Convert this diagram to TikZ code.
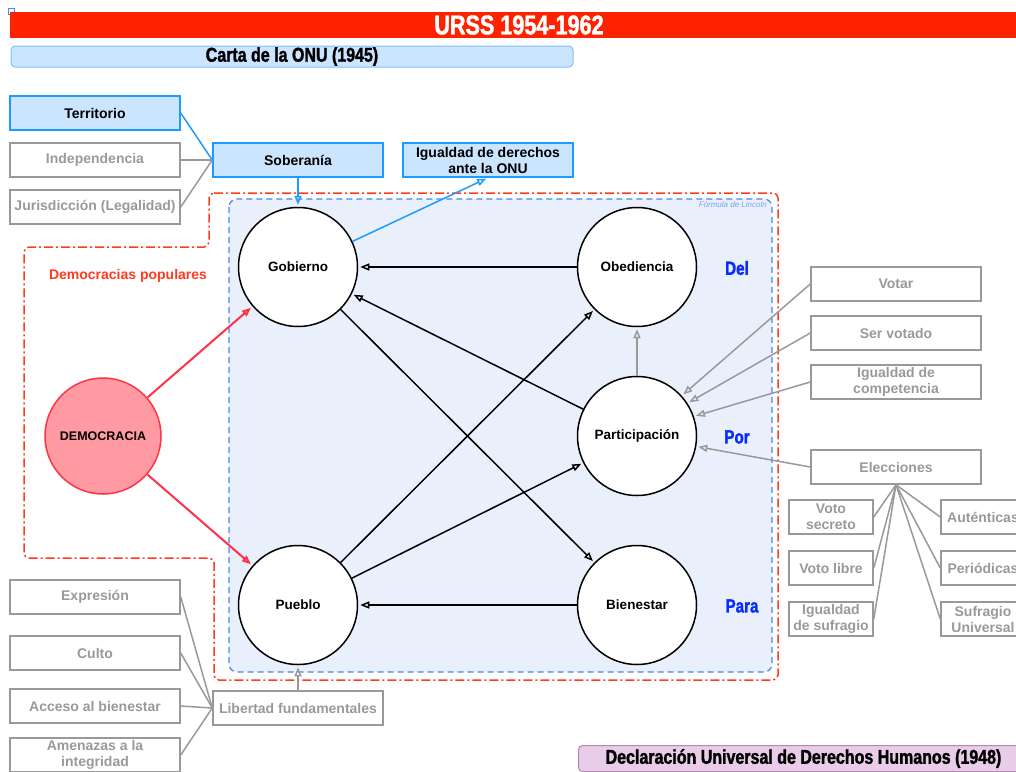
\documentclass[tikz,border=0pt]{standalone}
\usepackage{fontspec}
\setmainfont{Liberation Sans}
\newfontfamily\condensada{Liberation Sans}[FakeStretch=0.8, FakeBold=1.5]
\usetikzlibrary{arrows.meta}

\definecolor{rojobanda}{RGB}{255,34,0}
\definecolor{azulfondo}{RGB}{204,229,255}
\definecolor{azulborde}{RGB}{30,155,255}
\definecolor{azulcarta}{RGB}{128,191,255}
\definecolor{gris}{RGB}{153,153,153}
\definecolor{fondolincoln}{RGB}{234,240,251}
\definecolor{azullincoln}{RGB}{74,134,232}
\definecolor{rojopunteado}{RGB}{255,59,31}
\definecolor{rosademo}{RGB}{255,154,162}
\definecolor{rojodemo}{RGB}{255,51,71}
\definecolor{azulpalabra}{RGB}{10,43,255}
\definecolor{lila}{RGB}{232,204,232}
\definecolor{lilaborde}{RGB}{179,138,179}

\tikzset{
  caja/.style={draw=gris, line width=1.5pt, minimum width=170pt, minimum height=34pt,
    inner sep=0pt, align=center, text=gris, font=\bfseries\fontsize{14}{16}\selectfont},
  cajachica/.style={caja, minimum width=84pt},
  cajaazul/.style={caja, draw=azulborde, fill=azulfondo, text=black},
  circulo/.style={circle, draw, line width=1.5pt, fill=white, minimum size=119pt,
    inner sep=0pt, font=\bfseries\fontsize{13.5}{16}\selectfont},
  flecha/.style={-{Triangle[open,length=9pt,width=7pt]}, line width=1.5pt, shorten >=2pt},
  linea/.style={line width=1.5pt},
  gruesa/.style={font=\condensada\bfseries\fontsize{20}{22}\selectfont},
}

\begin{document}
\begin{tikzpicture}[x=1pt, y=-1pt]
    \useasboundingbox (0,0) rectangle (1016,771);

    % Encabezado
    \draw[azullincoln, line width=0.8pt] (8,8) rectangle (14,14);
    \fill[rojobanda] (10,12) rectangle (1016,38);
    \node[gruesa, text=white, font=\condensada\bfseries\fontsize{27}{29}\selectfont] (titulo) at (519,25) {URSS 1954-1962};
    \node[gruesa, draw=azulcarta, fill=azulfondo, rounded corners=4pt, line width=1pt,
        minimum width=562pt, minimum height=21pt, inner sep=0pt] (carta) at (292,56.5) {Carta de la ONU (1945)};

    % Zonas: democracias populares y formula de Lincoln
    \draw[rojopunteado, line width=1.5pt, dash pattern=on 9pt off 3pt on 2pt off 3pt, rounded corners=5pt]
        (209,193) -- (778,193) -- (778,680) -- (214,680) -- (214,558) -- (24,558) -- (24,247) -- (209,247) -- cycle;
    \draw[azullincoln, fill=fondolincoln, line width=1.3pt, dash pattern=on 6pt off 4pt, rounded corners=8pt]
        (229,199) rectangle (772,672);
    \node[anchor=north east, text=azullincoln!75, font=\itshape\fontsize{8}{9}\selectfont, inner sep=1pt] (lincoln) at (768,200) {Fórmula de Lincoln};
    \node[text=rojopunteado, font=\bfseries\fontsize{14}{16}\selectfont] (populares) at (128,276) {Democracias populares};

    % Circulos
    \node[circulo] (gob) at (298,267) {Gobierno};
    \node[circulo] (obed) at (637,267) {Obediencia};
    \node[circulo] (part) at (637,436) {Participación};
    \node[circulo] (pueblo) at (298,605) {Pueblo};
    \node[circulo] (bien) at (637,605) {Bienestar};
    \node[circulo, fill=rosademo, draw=rojodemo, minimum size=116pt, font=\bfseries\fontsize{12.5}{15}\selectfont] (demo) at (103,436) {DEMOCRACIA};

    \node[gruesa, text=azulpalabra, font=\condensada\bfseries\fontsize{19}{21}\selectfont] (del) at (737,268) {Del};
    \node[gruesa, text=azulpalabra, font=\condensada\bfseries\fontsize{19}{21}\selectfont] (por) at (737,437) {Por};
    \node[gruesa, text=azulpalabra, font=\condensada\bfseries\fontsize{19}{21}\selectfont] (para) at (742,606) {Para};

    % Cajas de arriba
    \node[cajaazul] (terr) at (95,113) {Territorio};
    \node[caja] (indep) at (95,160) {Independencia};
    \node[caja] (juris) at (95,207) {Jurisdicción (Legalidad)};
    \node[cajaazul] (sob) at (298,160) {Soberanía};
    \node[cajaazul] (igual) at (488,160) {Igualdad de derechos\\ante la ONU};

    % Cajas de la derecha
    \node[caja] (votar) at (896,284) {Votar};
    \node[caja] (servot) at (896,333) {Ser votado};
    \node[caja] (compet) at (896,382) {Igualdad de\\competencia};
    \node[caja] (elec) at (896,467) {Elecciones};
    \node[cajachica] (secreto) at (831,517) {Voto\\secreto};
    \node[cajachica] (libre) at (831,568) {Voto libre};
    \node[cajachica] (igsuf) at (831,619) {Igualdad\\de sufragio};
    \node[cajachica] (autent) at (983,517) {Auténticas};
    \node[cajachica] (period) at (983,568) {Periódicas};
    \node[cajachica] (univ) at (983,619) {Sufragio\\Universal};

    % Cajas de abajo
    \node[caja] (expr) at (95,597) {Expresión};
    \node[caja] (culto) at (95,653) {Culto};
    \node[caja] (acceso) at (95,706) {Acceso al bienestar};
    \node[caja] (amen) at (95,755) {Amenazas a la\\integridad};
    \node[caja] (libert) at (298,708) {Libertad fundamentales};
    \node[gruesa, draw=lilaborde, fill=lila, rounded corners=4pt, line width=1pt, anchor=north west,
        minimum width=450pt, minimum height=26pt, inner sep=0pt] (decl) at (578,745) {Declaración Universal de Derechos Humanos (1948)};

    % Conexiones de la soberania
    \draw[linea, azulborde] (terr.east) -- (sob.west);
    \draw[linea, gris] (indep.east) -- (sob.west);
    \draw[linea, gris] (juris.east) -- (sob.west);
    \draw[flecha, azulborde] (sob) -- (gob);
    \draw[flecha, azulborde] (gob) -- (igual.south);

    % Flechas entre circulos
    \draw[flecha] (obed) -- (gob);
    \draw[flecha] (part) -- (gob);
    \draw[flecha] (gob) -- (bien);
    \draw[flecha] (pueblo) -- (obed);
    \draw[flecha] (pueblo) -- (part);
    \draw[flecha] (bien) -- (pueblo);
    \draw[flecha, gris] (part) -- (obed);
    \draw[flecha, rojodemo, line width=2pt] (demo) -- (gob);
    \draw[flecha, rojodemo, line width=2pt] (demo) -- (pueblo);

    % Derechos politicos
    \draw[flecha, gris] (votar.west) -- (part.42);
    \draw[flecha, gris] (servot.west) -- (part.33);
    \draw[flecha, gris] (compet.west) -- (part.19);
    \draw[flecha, gris] (elec.west) -- (part.-10);
    \draw[linea, gris] (elec.south) -- (secreto.east);
    \draw[linea, gris] (elec.south) -- (libre.east);
    \draw[linea, gris] (elec.south) -- (igsuf.east);
    \draw[linea, gris] (elec.south) -- (autent.west);
    \draw[linea, gris] (elec.south) -- (period.west);
    \draw[linea, gris] (elec.south) -- (univ.west);

    % Libertades
    \draw[flecha, gris] (libert) -- (pueblo);
    \draw[linea, gris] (expr.east) -- (libert.west);
    \draw[linea, gris] (culto.east) -- (libert.west);
    \draw[linea, gris] (acceso.east) -- (libert.west);
    \draw[linea, gris] (amen.east) -- (libert.west);
\end{tikzpicture}
\end{document}
